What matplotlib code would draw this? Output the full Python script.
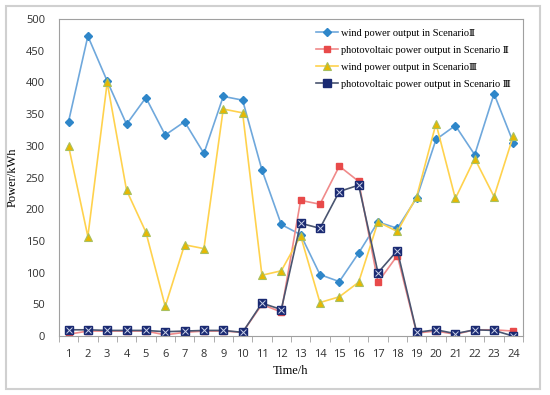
import matplotlib.pyplot as plt
from matplotlib.patches import Rectangle

hours = list(range(1, 25))
wind_2 = [338, 473, 402, 334, 376, 317, 338, 288, 378, 372, 262, 176,
          160, 97, 86, 131, 180, 170, 218, 310, 332, 286, 382, 305]
pv_2 = [3, 8, 8, 8, 8, 2, 6, 8, 8, 6, 50, 38,
        214, 208, 268, 244, 85, 127, 5, 8, 3, 10, 10, 8]
wind_3 = [300, 157, 400, 230, 164, 47, 144, 138, 358, 352, 96, 103,
          158, 53, 62, 85, 180, 165, 220, 335, 217, 280, 220, 316]
pv_3 = [10, 10, 9, 9, 9, 7, 8, 9, 9, 6, 52, 42,
        178, 170, 228, 238, 100, 135, 6, 10, 4, 10, 9, 0]

serif = 'Liberation Serif'
sans = 'Open Sans'

fig = plt.figure(figsize=(5.5, 3.95), dpi=100)
ax = fig.add_axes([0.107, 0.149, 0.844, 0.803])

# outer frame like the excel chart area
fig.patches.append(Rectangle((6 / 550, 6 / 395), 534 / 550, 383 / 395,
                             transform=fig.transFigure, fill=False,
                             edgecolor='#d0d0d0', linewidth=1.5))

x = list(range(len(hours)))
ax.plot(x, wind_2, color='#6fa8dc', lw=1.2, marker='D', ms=4,
        mfc='#2e86c9', mec='#2e86c9', label='wind power output in Scenario\u2161')
ax.plot(x, pv_2, color='#f08a8a', lw=1.2, marker='s', ms=5,
        mfc='#e84a4a', mec='#e84a4a', label='photovoltaic power output in Scenario \u2161')
ax.plot(x, wind_3, color='#ffd24d', lw=1.2, marker='^', ms=6,
        mfc='#e8b800', mec='#a8c060', mew=0.8, label='wind power output in Scenario\u2162')
ax.plot(x, pv_3, color='#4a5570', lw=1.2, marker='s', ms=6,
        mfc='#1a2a72', mec='#1a2a72', label='photovoltaic power output in Scenario \u2162')
ax.plot(x, pv_3, ls='none', marker='x', ms=4, mec='#c8d0e8', mew=0.7)

ax.set_xlim(-0.5, len(hours) - 0.5)
ax.set_ylim(0, 500)
ax.set_yticks(range(0, 501, 50))
ax.set_xticks(x)
ax.set_xticklabels([str(h) for h in hours])
ax.set_xticks([i - 0.5 for i in range(len(hours) + 1)], minor=True)
ax.tick_params(axis='x', which='major', length=0, pad=9)
ax.tick_params(axis='x', which='minor', length=4, color='#a0a0a0', direction='out')
ax.tick_params(axis='y', length=0, pad=10)
for lab in ax.get_xticklabels() + ax.get_yticklabels():
    lab.set_fontfamily(sans)
    lab.set_fontsize(8)
    lab.set_color('#303030')

for s in ax.spines.values():
    s.set_color('#a0a0a0')

ax.set_xlabel('Time/h', fontfamily=serif, fontsize=9, labelpad=4)
ax.set_ylabel('Power/kWh', fontfamily=serif, fontsize=9, labelpad=5)

leg = ax.legend(loc='upper right', bbox_to_anchor=(0.995, 1.0), frameon=False,
                prop={'family': [serif, 'DejaVu Serif'], 'size': 7.5},
                handlelength=2.1, labelspacing=0.75, handletextpad=0.3)

fig.savefig('out.png', dpi=100)
